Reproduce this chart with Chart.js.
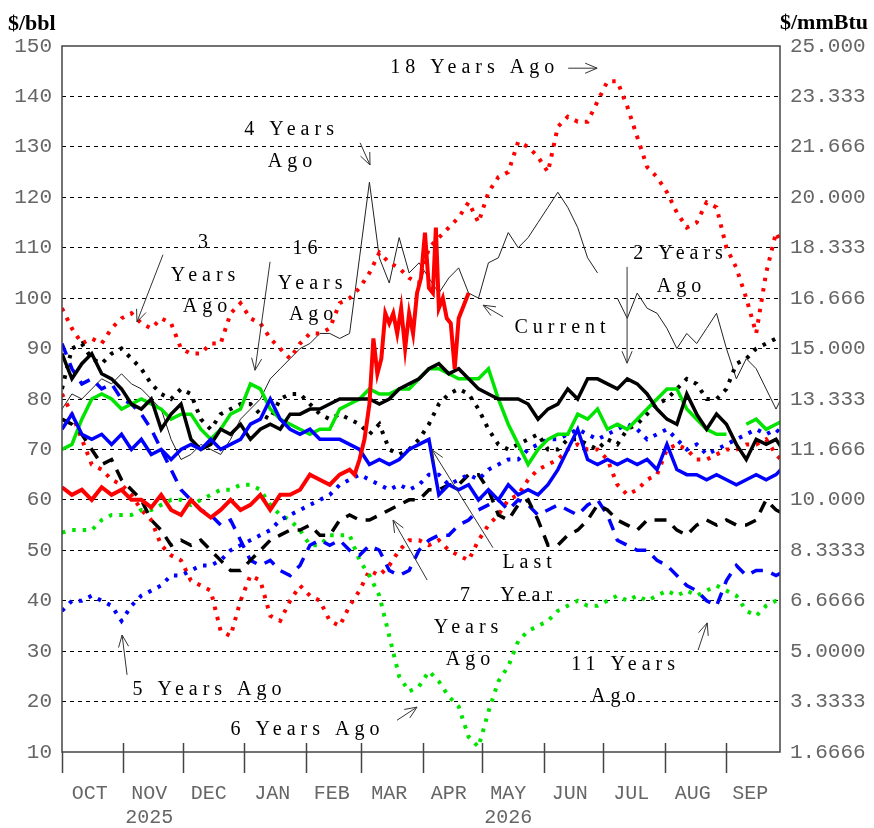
<!DOCTYPE html>
<html>
<head>
<meta charset="utf-8">
<title>Crude price, current year against earlier years</title>
<script src="https://cdn.jsdelivr.net/npm/chart.js@4.4.1/dist/chart.umd.min.js"></script>
<style>
  html, body { margin: 0; padding: 0; background: #fff; }
  #chart { display: block; }
</style>
</head>
<body>
<canvas id="chart" width="874" height="828"></canvas>
<script>
// x positions: days since 1 Oct 2025, one reading every 5 days
const days = [0, 5, 10, 15, 20, 25, 30, 35, 40, 45, 50, 55, 60, 65, 70, 75, 80, 85, 90, 95,
  100, 105, 110, 115, 120, 125, 130, 135, 140, 145, 150, 155, 160, 165, 170, 175, 180, 185, 190, 195,
  200, 205, 210, 215, 220, 225, 230, 235, 240, 245, 250, 255, 260, 265, 270, 275, 280, 285, 290, 295,
  300, 305, 310, 315, 320, 325, 330, 335, 340, 345, 350, 355, 360, 365];

const monthStarts = [0, 31, 61, 92, 123, 151, 182, 212, 243, 273, 304, 335];
const monthLabelDays = [14, 44, 74, 106, 136, 165, 195, 225, 256, 287, 318, 347];
const monthNames = ['OCT', 'NOV', 'DEC', 'JAN', 'FEB', 'MAR', 'APR', 'MAY', 'JUN', 'JUL', 'AUG', 'SEP'];
const yearUnder = { NOV: '2025', MAY: '2026' };

const bblTicks = [10, 20, 30, 40, 50, 60, 70, 80, 90, 100, 110, 120, 130, 140, 150];
const mmbtuTicks = ['1.6666', '3.3333', '5.0000', '6.6666', '8.3333', '10.000', '11.666', '13.333',
  '15.000', '16.666', '18.333', '20.000', '21.666', '23.333', '25.000'];

// current year is read more finely through the March-April run-up
const currentDays = [0, 5, 10, 15, 20, 25, 30, 35, 40, 45, 50, 55, 60, 65, 70, 75, 80, 85, 90, 95,
  100, 105, 110, 115, 120, 125, 130, 135, 140, 145,
  147.5, 150, 152.5, 155, 157, 159, 161, 163, 165, 167, 169, 171, 173, 175, 177, 179, 181, 183, 185, 187,
  188.5, 190, 192, 194, 196, 198, 200, 202, 205];
const current = [62.5, 61, 62, 60, 62.5, 61, 62, 60, 60, 58.5,
  61, 58, 57, 60, 58, 56.5, 58, 60, 58, 59,
  61, 58, 61, 61, 62, 65, 64, 63, 65, 66,
  65, 68, 72, 79, 92, 85, 88, 97, 95, 97, 93, 98, 90, 97, 93, 101, 104, 113, 102, 101,
  114, 98, 100, 96, 95, 86, 96, 98, 101];

// $/bbl
const lastYear = [74, 77, 73, 72, 73, 71, 73, 70, 72, 69,
  70, 68, 70, 71, 70, 72, 70, 71, 72, 75,
  76, 80, 76, 74, 73, 74, 72, 72, 72, 71,
  70, 67, 68, 67, 68, 70, 71, 72, 61, 63,
  62, 63, 60, 62, 60, 63, 61, 62, 61, 63,
  66, 70, 74, 68, 67, 68, 67, 68, 67, 68,
  66, 71, 66, 65, 65, 64, 65, 64, 63, 64,
  65, 64, 65, 67];
const twoYearsAgo = [89, 84, 87, 89, 85, 84, 82, 79, 78, 80,
  74, 77, 79, 72, 70, 71, 74, 73, 75, 72,
  74, 75, 74, 77, 77, 78, 78, 79, 80, 80,
  80, 80, 79, 80, 82, 83, 84, 86, 87, 85,
  86, 84, 82, 81, 80, 80, 80, 79, 76, 78,
  79, 82, 80, 84, 84, 83, 82, 84, 83, 81,
  78, 76, 75, 81, 77, 74, 77, 75, 71, 68,
  72, 71, 72, 69];
const threeYearsAgo = [82, 90, 91, 88, 87, 89, 90, 88, 86, 83,
  81, 80, 82, 81, 76, 74, 77, 78, 79, 79,
  77, 76, 80, 81, 81, 79, 77, 76, 77, 76,
  75, 73, 75, 70, 69, 70, 72, 75, 79, 81,
  82, 81, 78, 74, 71, 70, 71, 72, 73, 70,
  70, 72, 72, 71, 70, 72, 71, 74, 75, 77,
  79, 80, 82, 84, 83, 80, 80, 82, 87, 88,
  90, 91, 92, 92];
const fourYearsAgo = [78, 81, 80, 82, 84, 83, 85, 83, 82, 80,
  78, 72, 68, 69, 71, 70, 69, 72, 76, 78,
  80, 84, 86, 88, 90, 91, 93, 93, 92, 93,
  108, 123, 108, 103, 112, 105, 107, 104, 101, 104,
  106, 101, 100, 107, 108, 113, 110, 112, 115, 118,
  121, 118, 114, 108, 105, null, 100, 96, 101, 98,
  97, 94, 90, 93, 91, 94, 97, 90, 84, 88,
  86, 82, 78, 82];
const fiveYearsAgo = [38, 40, 40, 41, 40, 39, 36, 39, 41, 42,
  43, 45, 45, 46, 47, 47, 48, 50, 51, 52,
  53, 54, 56, 57, 58, 59, 60, 61, 63, 64,
  65, 64, 63, 62, 63, 62, 63, 65, 65, 63,
  64, 65, 64, 66, 67, 68, 68, 70, 71, 72,
  72, 73, 74, 73, 72, 73, 74, 75, 74, 72,
  73, 74, 72, 70, 71, 69, 70, 71, 72, 73,
  74, 73, 74, 72];
const sixYearsAgo = [53.5, 54, 54, 54, 56, 57, 57, 57, 58, 58,
  59, 60, 60, 59, 60, 61, 62, 62, 63, 63,
  62, 59, 57, 56, 54, 51, 51, 53, 53, 53,
  48, 45, 41, 33, 25, 22, 23, 26, 24, 21,
  19, 13, 11, 18, 24, 27, 32, 34, 35, 36,
  38, 39, 40, 39, 39, 40, 41, 40, 41, 40,
  41, 42, 41, 42, 41, 42, 43, 42, 41, 38,
  37, 39, 40, 40];
const sevenYearsAgo = [76, 75, 73, 70, 67, 68, 64, 62, 60, 56,
  54, 51, 52, 51, 52, 50, 48, 46, 46, 48,
  50, 52, 53, 54, 54, 55, 53, 53, 56, 57,
  56, 56, 57, 58, 59, 60, 60, 62, 62, 63,
  63, 65, 65, 62, 57, 56, 59, 60, 56, 51,
  51, 53, 54, 56, 59, 58, 56, 55, 54, 56,
  56, 56, 54, 53, 55, 56, 55, 56, 55, 55,
  56, 60, 58, 57];
const elevenYearsAgo = [91, 86, 83, 84, 82, 83, 80, 79, 77, 74,
  70, 66, 62, 60, 58, 57, 55, 56, 52, 48,
  47, 48, 46, 45, 47, 51, 52, 51, 52, 50,
  49, 51, 50, 46, 45, 46, 50, 52, 53, 53,
  55, 56, 58, 59, 60, 58, 60, 59, 57, 58,
  59, 58, 57, 59, 60, 57, 52, 51, 50, 50,
  48, 47, 45, 43, 42, 40, 39, 44, 47, 45,
  46, 46, 45, 46];
const sixteenYearsAgo = [70, 71, 76, 80, 81, 80, 78, 79, 80, 79,
  78, 76, 77, 77, 74, 72, 74, 77, 78, 83,
  82, 78, 76, 75, 74, 73, 74, 74, 78, 79,
  80, 82, 81, 81, 82, 82, 84, 86, 86, 85,
  84, 84, 84, 86, 80, 75, 71, 67, 70, 72,
  73, 73, 77, 76, 78, 74, 75, 74, 76, 78,
  80, 82, 82, 78, 76, 74, 73, 73, null, 75,
  76, 74, 75, 76];
const seventeenYearsAgo = [81, 77, 72, 67, 66, 64, 63, 61, 58, 56,
  51, 49, 48, 44, 43, 42, 34, 33, 40, 45,
  44, 37, 36, 40, 43, 41, 40, 36, 35, 39,
  42, 46, 45, 47, 50, 52, 52, 51, 52, 50,
  49, 48, 52, 55, 57, 60, 61, 64, 66, 67,
  68, 70, 71, 70, 70, 68, 63, 61, 62, 64,
  65, 70, 71, 70, 68, 68, 69, 70, 70, 71,
  71, 72, 69, 67];
const eighteenYearsAgo = [98, 94, 91, 92, 91, 94, 96, 97, 95, 94,
  96, 95, 90, 89, 89, 91, 91, 97, 99, 96,
  95, 92, 90, 88, 91, 93, 93, 94, 99, 100,
  102, 105, 109, 107, 106, 104, 103, 110, 112, 114,
  116, 119, 115, 121, 124, 125, 131, 130, 128, 125,
  134, 136, 135, 135, 139, 143, 143, 138, 132, 126,
  124, 121, 117, 114, 115, 119, 118, 110, 106, 100,
  93, 105, 113, 109];

// labels written on the plot, anchored in data units (day, $/bbl)
const noteText = ['18 Years Ago', '4 Years', 'Ago', '3', 'Years', 'Ago', '16', 'Years', 'Ago',
  '2 Years', 'Ago', 'Current', 'Last', 'Year', '7', 'Years', 'Ago', '5 Years Ago', '6 Years Ago', '11 Years', 'Ago'];
const noteDay = [206.8, 114.5, 115, 71.1, 71.1, 72.1, 122.5, 125.1, 125.6,
  310.6, 311.1, 251.1, 234.5, 234, 203.2, 203.7, 204.7, 73.1, 122.5, 282.9, 277.9];
const noteVal = [145.6, 133.3, 127.0, 110.9, 104.4, 98.2, 109.7, 102.8, 96.7,
  108.8, 102.2, 94.1, 47.5, 40.9, 40.9, 34.6, 28.2, 22.3, 14.4, 27.4, 20.9];

const arrowFromDay = [255.2, 150.3, 50.9, 104.9, 284.9, 222.4, 217.3, 184.1, 32.8, 168.9, 320.7];
const arrowFromVal = [145.6, 130.8, 108.6, 107.2, 106.2, 96.3, 50.5, 44.1, 25.3, 16.3, 30.2];
const arrowToDay = [269.8, 155.3, 37.8, 97.3, 284.9, 212.3, 186.6, 166.9, 30.3, 179.0, 325.3];
const arrowToVal = [145.6, 126.4, 95.3, 85.7, 87.1, 98.6, 69.9, 56.0, 33.2, 18.9, 35.6];

const RED = '#ff0000', BLUE = '#0000ff', GREEN = '#00e400', BLACK = '#000000';
const DOTS = [3.5, 7];
const DASHES = [12, 9];

function points(vals, xs) {
    return (xs || days).map((d, i) => ({ x: d, y: vals[i] === undefined ? null : vals[i] }));
}

function series(label, vals, color, width, dash, xs) {
    return {
        label: label,
        data: points(vals, xs),
        borderColor: color,
        backgroundColor: color,
        borderWidth: width,
        borderDash: dash || [],
        borderCapStyle: 'butt',
        pointRadius: 0,
        tension: 0,
        spanGaps: false
    };
}

// first dataset is drawn on top
const datasets = [
    series('Current', current, RED, 4, null, currentDays),
    series('Last Year', lastYear, BLUE, 3.5),
    series('2 Years Ago', twoYearsAgo, BLACK, 3.5),
    series('16 Years Ago', sixteenYearsAgo, GREEN, 3.5),
    series('3 Years Ago', threeYearsAgo, BLACK, 4, DOTS),
    series('5 Years Ago', fiveYearsAgo, BLUE, 4, DOTS),
    series('7 Years Ago', sevenYearsAgo, BLACK, 3.5, DASHES),
    series('11 Years Ago', elevenYearsAgo, BLUE, 3.5, DASHES),
    series('6 Years Ago', sixYearsAgo, GREEN, 4, DOTS),
    series('17 Years Ago', seventeenYearsAgo, RED, 4, DOTS),
    series('18 Years Ago', eighteenYearsAgo, RED, 4, DOTS),
    series('4 Years Ago', fourYearsAgo, '#222222', 1)
];

const decorations = {
    id: 'decorations',
    afterDatasetsDraw(chart) {
        const { ctx, chartArea: a, scales: { x, y } } = chart;
        ctx.save();
        ctx.setLineDash([]);

        // frame
        ctx.strokeStyle = '#444';
        ctx.lineWidth = 1.5;
        ctx.strokeRect(a.left, a.top, a.right - a.left, a.bottom - a.top);

        // month boundary ticks crossing the bottom axis
        ctx.beginPath();
        monthStarts.forEach((d, i) => {
            const px = Math.round(x.getPixelForValue(d)) + 0.5;
            ctx.moveTo(px, i === 0 ? a.bottom : a.bottom - 9);
            ctx.lineTo(px, a.bottom + 21);
        });
        ctx.stroke();

        // arrows
        ctx.strokeStyle = '#333';
        ctx.lineWidth = 1;
        arrowFromDay.forEach((_, i) => {
            const x0 = x.getPixelForValue(arrowFromDay[i]), y0 = y.getPixelForValue(arrowFromVal[i]);
            const x1 = x.getPixelForValue(arrowToDay[i]), y1 = y.getPixelForValue(arrowToVal[i]);
            const ang = Math.atan2(y1 - y0, x1 - x0);
            ctx.beginPath();
            ctx.moveTo(x0, y0);
            ctx.lineTo(x1, y1);
            [-0.4, 0.4].forEach(s => {
                ctx.moveTo(x1, y1);
                ctx.lineTo(x1 - 13 * Math.cos(ang + s), y1 - 13 * Math.sin(ang + s));
            });
            ctx.stroke();
        });

        // notes
        ctx.fillStyle = '#000';
        ctx.font = '20px "Liberation Serif"';
        ctx.textAlign = 'center';
        ctx.textBaseline = 'middle';
        ctx.letterSpacing = '5px';
        noteText.forEach((t, i) => {
            ctx.fillText(t, x.getPixelForValue(noteDay[i]) + 2.5, y.getPixelForValue(noteVal[i]));
        });
        ctx.letterSpacing = '0px';

        // unit titles
        ctx.font = 'bold 22px "Liberation Serif"';
        ctx.textAlign = 'left';
        ctx.fillText('$/bbl', 8, 24);
        ctx.textAlign = 'right';
        ctx.fillText('$/mmBtu', chart.width - 6, 23);
        ctx.restore();
    }
};

Chart.defaults.font.family = '"Liberation Mono", "DejaVu Sans Mono", monospace';
Chart.defaults.color = '#666';

new Chart(document.getElementById('chart'), {
    type: 'line',
    data: { datasets: datasets },
    plugins: [decorations],
    options: {
        responsive: false,
        animation: false,
        devicePixelRatio: 1,
        layout: { padding: { top: 46, left: 0, right: 0, bottom: 0 } },
        plugins: { legend: { display: false }, tooltip: { enabled: false } },
        scales: {
            x: {
                type: 'linear',
                min: 0,
                max: 362,
                grid: { display: false, drawTicks: false },
                border: { display: false },
                afterFit: s => { s.height = 76; },
                afterBuildTicks: s => { s.ticks = monthLabelDays.map(v => ({ value: v })); },
                ticks: {
                    autoSkip: false,
                    maxRotation: 0,
                    padding: 30,
                    font: { size: 20, lineHeight: 1.2 },
                    callback: (value, index) => {
                        const m = monthNames[index];
                        return yearUnder[m] ? [m, yearUnder[m]] : m;
                    }
                }
            },
            y: {
                position: 'left',
                min: 10,
                max: 150,
                afterFit: s => { s.width = 62; },
                afterBuildTicks: s => { s.ticks = bblTicks.map(v => ({ value: v })); },
                grid: {
                    drawTicks: false,
                    lineWidth: 1,
                    color: c => (c.tick.value === 10 || c.tick.value === 150) ? 'rgba(0,0,0,0)' : '#000'
                },
                border: { display: false, dash: [4, 4] },
                ticks: { padding: 10, font: { size: 21 } }
            },
            y2: {
                position: 'right',
                min: 10,
                max: 150,
                afterFit: s => { s.width = 94; },
                afterBuildTicks: s => { s.ticks = bblTicks.map(v => ({ value: v })); },
                grid: { display: false, drawTicks: false },
                border: { display: false },
                ticks: {
                    padding: 10,
                    font: { size: 21 },
                    callback: value => mmbtuTicks[bblTicks.indexOf(value)]
                }
            }
        }
    }
});
</script>
</body>
</html>
